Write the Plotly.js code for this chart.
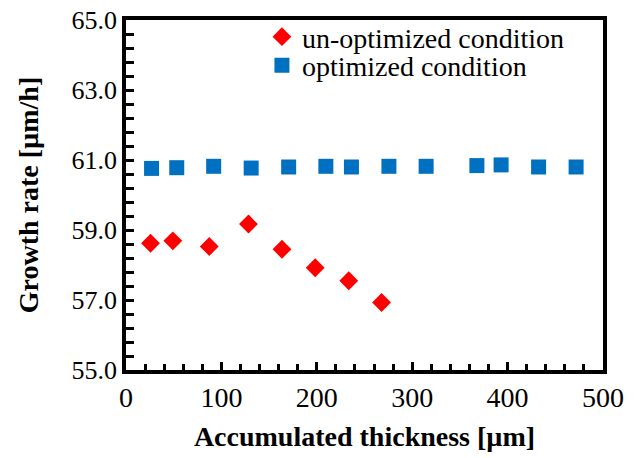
<!DOCTYPE html>
<html><head><meta charset="utf-8">
<script src="https://cdn.plot.ly/plotly-3.0.1.min.js"></script>
<style>html,body{margin:0;padding:0;background:#fff}</style>
</head><body>
<div id="chart" style="width:636px;height:458px"></div>
<script>
const unoptX = [25.7, 49.1, 87.3, 128.4, 163.5, 198.3, 233.5, 267.9];
const unoptY = [58.62, 58.69, 58.53, 59.17, 58.45, 57.92, 57.55, 56.93];
const optX = [26.8, 53.2, 91.9, 131.2, 170.5, 209.5, 236.3, 275.6, 314.6, 367.8, 393.2, 432.5, 471.8];
const optY = [60.76, 60.78, 60.82, 60.77, 60.8, 60.82, 60.8, 60.82, 60.82, 60.84, 60.86, 60.8, 60.8];
const xRange = [0, 500];
const yRange = [55, 65];

const serif = 'Liberation Serif';
const traces = [
  {x: unoptX, y: unoptY, mode: 'markers', type: 'scatter', name: 'un-optimized condition',
   legend: 'legend', marker: {symbol: 'diamond', size: 14.5, color: '#ff0000'}},
  {x: optX, y: optY, mode: 'markers', type: 'scatter', name: 'optimized condition',
   legend: 'legend2', marker: {symbol: 'square', size: 15, color: '#0070c0'}}
];
const legendBase = {xanchor: 'left', yanchor: 'top', bgcolor: 'rgba(0,0,0,0)',
  font: {size: 28, family: serif}, itemwidth: 30, borderwidth: 0};
const layout = {
  width: 636, height: 458,
  margin: {l: 126, r: 33, t: 20, b: 88},
  paper_bgcolor: '#fff', plot_bgcolor: '#fff',
  font: {family: serif, color: '#000', size: 28},
  showlegend: true,
  legend: Object.assign({x: 0.285, y: 1.023}, legendBase),
  legend2: Object.assign({x: 0.285, y: 0.941}, legendBase),
  xaxis: {range: xRange, tickmode: 'linear', tick0: 0, dtick: 100,
          ticks: 'inside', ticklen: 8, tickwidth: 3, tickcolor: '#000',
          minor: {tick0: 0, dtick: 20, ticks: 'inside', ticklen: 6, tickwidth: 3, tickcolor: '#000'},
          showline: true, linewidth: 3.5, linecolor: '#000', mirror: true,
          showgrid: false, zeroline: false,
          tickfont: {size: 28, family: serif},
          title: {text: '<b>Accumulated thickness [µm]</b>', font: {size: 28, family: serif}, standoff: 15}},
  yaxis: {range: yRange, tickmode: 'linear', tick0: 55, dtick: 2, tickformat: '.1f',
          ticks: 'inside', ticklen: 8, tickwidth: 3, tickcolor: '#000',
          minor: {tick0: 55, dtick: 0.4, ticks: 'inside', ticklen: 8, tickwidth: 3, tickcolor: '#000'},
          showline: true, linewidth: 3.5, linecolor: '#000', mirror: true,
          showgrid: false, zeroline: false,
          tickfont: {size: 26, family: serif},
          title: {text: '<b>Growth rate [µm/h]</b>', font: {size: 28, family: serif}, standoff: 26}}
};
Plotly.newPlot('chart', traces, layout, {displayModeBar: false});
</script>
</body></html>
